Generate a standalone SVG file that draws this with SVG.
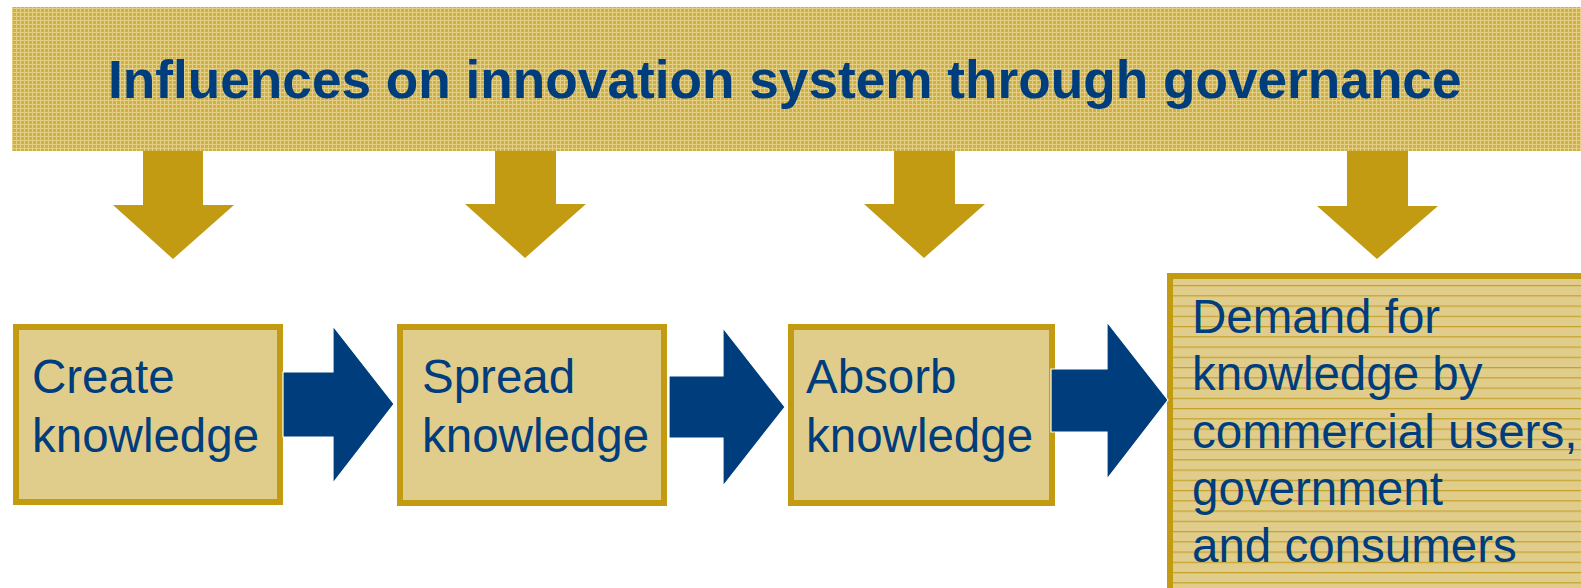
<svg xmlns="http://www.w3.org/2000/svg" width="1581" height="588" viewBox="0 0 1581 588">
  <style>
    .title { font-family: "Liberation Sans", Arial, sans-serif; font-weight: bold; font-size: 53.2px; fill: #003d7c; }
    .lbl { font-family: "Liberation Sans", Arial, sans-serif; font-size: 47.5px; fill: #003d7c; }
    .box { fill: #e1cd8b; stroke: #c29b13; stroke-width: 6; }
    .down { fill: #c29b13; }
    .right { fill: #003d7c; stroke: #ffffff; stroke-width: 1.2; }
  </style>
  <defs>
    <pattern id="grid" x="0" y="0" width="4" height="4" patternUnits="userSpaceOnUse">
      <rect width="4" height="4" fill="#d0b043"/>
      <rect x="0" y="0" width="4" height="1" fill="#e4cf86"/>
      <rect x="0" y="0" width="1" height="4" fill="#e4cf86"/>
    </pattern>
    <pattern id="lines" x="0" y="285" width="20" height="10.25" patternUnits="userSpaceOnUse">
      <rect width="20" height="10.25" fill="#e1cd8b"/>
      <rect x="0" y="0" width="20" height="1.2" fill="#c5a12a"/>
    </pattern>
  </defs>
  <rect width="1581" height="588" fill="#ffffff"/>

  <g id="banner">
    <rect x="12" y="7" width="1569" height="144" fill="url(#grid)"/>
    <text class="title" x="108" y="98">Influences on innovation system through governance</text>
  </g>

  <g id="create">
    <rect class="box" x="16" y="327" width="264" height="175"/>
    <text class="lbl" x="32" y="393">Create</text>
    <text class="lbl" x="32" y="452">knowledge</text>
  </g>

  <g id="spread">
    <rect class="box" x="400" y="327" width="264" height="176"/>
    <text class="lbl" x="422" y="393">Spread</text>
    <text class="lbl" x="422" y="452">knowledge</text>
  </g>

  <g id="absorb">
    <rect class="box" x="791" y="327" width="261" height="176"/>
    <text class="lbl" x="806" y="393">Absorb</text>
    <text class="lbl" x="806" y="452">knowledge</text>
  </g>

  <g id="demand">
    <rect x="1170" y="276" width="500" height="400" fill="url(#lines)" stroke="#c29b13" stroke-width="6"/>
    <text class="lbl" x="1192" y="333">Demand for</text>
    <text class="lbl" x="1192" y="390">knowledge by</text>
    <text class="lbl" x="1192" y="448">commercial users,</text>
    <text class="lbl" x="1192" y="505">government</text>
    <text class="lbl" x="1192" y="562">and consumers</text>
  </g>

  <g id="connectors">
    <polygon class="down" points="143,151 203,151 203,205 234,205 173,259 113,205 143,205"/>
    <polygon class="down" points="495,151 556,151 556,204 586,204 525,258 465,204 495,204"/>
    <polygon class="down" points="894,151 955,151 955,204 985,204 924,258 864,204 894,204"/>
    <polygon class="down" points="1347,151 1408,151 1408,206 1438,206 1377,259 1317,206 1347,206"/>
    <polygon class="right" points="283,372 333,372 333,326 394,404 333,483 333,437 283,437"/>
    <polygon class="right" points="669,376 723,376 723,328 785,407 723,486 723,438 669,438"/>
    <polygon class="right" points="1051,369 1107,369 1107,322 1168,400 1107,479 1107,432 1051,432"/>
  </g>
</svg>
